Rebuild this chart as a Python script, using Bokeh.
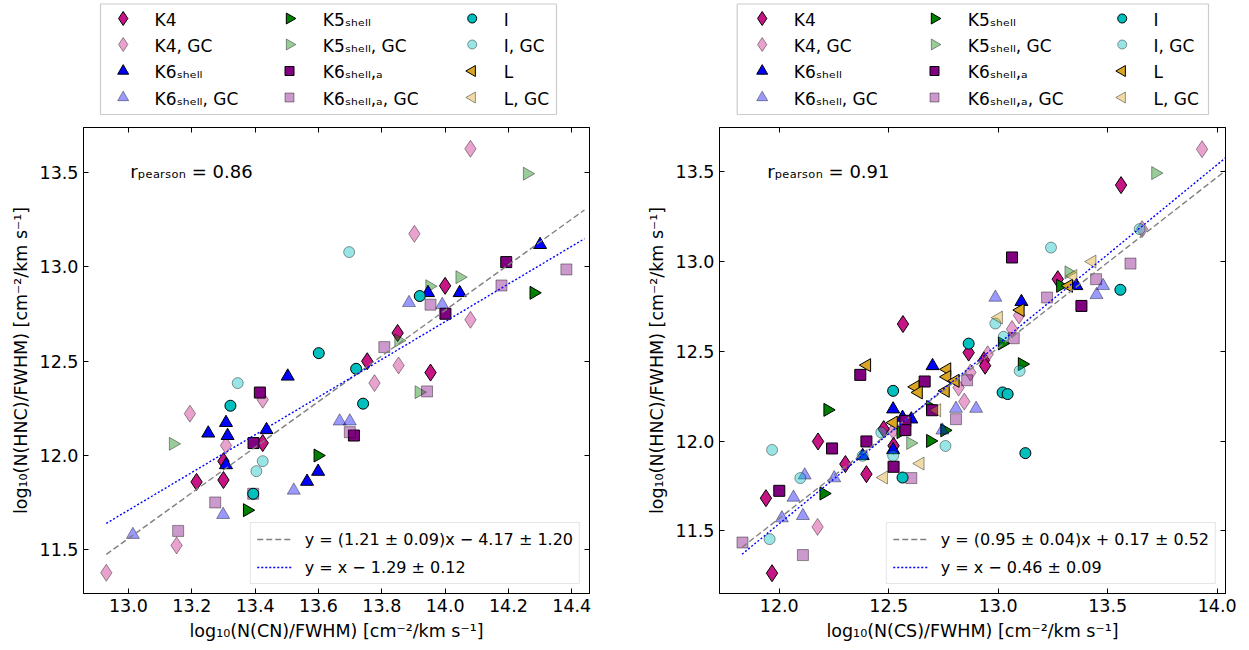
import numpy as np
from bokeh.plotting import figure
from bokeh.models import (Legend, LegendItem, LinearAxis, Label, FixedTicker,
                          Range1d, ColumnDataSource, CustomLabelingPolicy,
                          PrintfTickFormatter)
from bokeh.core.properties import value
from bokeh.layouts import row, column
from bokeh.embed import file_html
from bokeh.resources import INLINE

# ---------------- data: left panel, CN ----------------
K4_cn_x = [13.215, 13.30, 13.30, 13.424, 13.754, 13.85, 13.954, 14.00]
K4_cn_y = [11.86, 11.97, 11.87, 12.066, 12.50, 12.65, 12.44, 12.90]
K4GC_cn_x = [12.93, 13.152, 13.194, 13.308, 13.424, 13.777, 13.853, 13.903, 14.08, 14.08]
K4GC_cn_y = [11.378, 11.523, 12.222, 12.053, 12.296, 12.384, 12.478, 13.176, 13.627, 12.72]
K5_cn_x = [13.375, 13.598, 14.28]
K5_cn_y = [11.71, 12.0, 12.863]
K5GC_cn_x = [13.141, 13.853, 13.917, 13.951, 14.046, 14.259]
K5GC_cn_y = [12.062, 12.61, 12.336, 12.898, 12.946, 13.495]
K6_cn_x = [13.252, 13.308, 13.313, 13.308, 13.436, 13.503, 13.564, 13.599, 13.946, 14.046, 14.30]
K6_cn_y = [12.118, 12.174, 12.105, 11.95, 12.136, 12.42, 11.862, 11.915, 12.863, 12.863, 13.118]
K6GC_cn_x = [13.014, 13.299, 13.522, 13.667, 13.699, 13.886, 13.991]
K6GC_cn_y = [11.58, 11.686, 11.815, 12.182, 12.182, 12.81, 12.80]
K6a_cn_x = [13.395, 13.415, 13.712, 14.001, 14.193]
K6a_cn_y = [12.066, 12.334, 12.106, 12.752, 13.026]
K6aGC_cn_x = [13.157, 13.274, 13.394, 13.699, 13.808, 13.943, 13.954, 14.178, 14.383]
K6aGC_cn_y = [11.60, 11.751, 11.797, 12.124, 12.575, 12.34, 12.80, 12.902, 12.987]
I_cn_x = [13.322, 13.394, 13.601, 13.719, 13.741, 13.92]
I_cn_y = [12.264, 11.797, 12.543, 12.46, 12.275, 12.846]
IGC_cn_x = [13.345, 13.404, 13.424, 13.697]
IGC_cn_y = [12.384, 11.917, 11.97, 13.079]
L_cn_x, L_cn_y = [], []
LGC_cn_x, LGC_cn_y = [], []

# ---------------- data: right panel, CS ----------------
K4_cs_x = [11.939, 11.967, 12.177, 12.302, 12.398, 12.477, 12.522, 12.565, 12.865, 12.935, 12.94, 13.272, 13.561]
K4_cs_y = [11.682, 11.264, 11.998, 11.872, 11.816, 12.067, 11.974, 12.652, 12.493, 12.45, 12.42, 12.902, 13.426]
K4GC_cs_x = [12.175, 12.52, 12.819, 12.845, 12.873, 12.952, 13.063, 13.095, 13.657, 13.931]
K4GC_cs_y = [11.522, 12.057, 12.298, 12.22, 12.382, 12.484, 12.624, 12.70, 13.181, 13.626]
K5_cs_x = [12.203, 12.221, 12.555, 12.69, 12.69, 12.755, 13.018, 13.109, 13.284]
K5_cs_y = [11.708, 12.174, 12.05, 12.001, 12.19, 12.06, 12.544, 12.429, 12.865]
K5GC_cs_x = [12.599, 13.322, 13.718]
K5GC_cs_y = [11.989, 12.94, 13.493]
K6_cs_x = [12.381, 12.52, 12.52, 12.563, 12.603, 12.70, 13.106, 13.357]
K6_cs_y = [11.918, 11.951, 12.178, 12.131, 12.122, 12.419, 12.776, 12.865]
K6GC_cs_x = [12.012, 12.065, 12.108, 12.116, 12.251, 12.745, 12.807, 12.899, 12.987, 13.449, 13.479]
K6GC_cs_y = [11.571, 11.686, 11.584, 11.81, 11.794, 12.06, 12.181, 12.181, 12.80, 12.815, 12.865]
K6a_cs_x = [12.0, 12.241, 12.37, 12.398, 12.522, 12.576, 12.576, 12.664, 12.698, 13.063, 13.38]
K6a_cs_y = [11.723, 11.959, 12.369, 11.998, 11.857, 12.113, 12.061, 12.332, 12.172, 13.023, 12.753]
K6aGC_cs_x = [11.832, 12.108, 12.603, 12.807, 12.858, 13.071, 13.223, 13.447, 13.604]
K6aGC_cs_y = [11.435, 11.365, 11.794, 12.122, 12.339, 12.573, 12.80, 12.902, 12.989]
I_cs_x = [12.52, 12.563, 12.865, 13.02, 13.043, 13.124, 13.558]
I_cs_y = [12.28, 11.797, 12.543, 12.271, 12.262, 11.933, 12.843]
IGC_cs_x = [11.956, 11.967, 12.096, 12.381, 12.466, 12.52, 12.759, 12.987, 13.025, 13.098, 13.241, 13.646]
IGC_cs_y = [11.454, 11.951, 11.794, 11.918, 12.048, 11.918, 11.973, 12.655, 12.581, 12.391, 13.078, 13.181]
L_cs_x = [12.40, 12.522, 12.621, 12.636, 12.759, 12.766, 12.766, 12.804, 13.101, 13.322]
L_cs_y = [12.423, 12.103, 12.302, 12.271, 12.28, 12.40, 12.358, 12.336, 12.73, 12.865]
LGC_cs_x = [12.477, 12.644, 12.72, 13.002, 13.342, 13.429]
LGC_cs_y = [11.797, 11.875, 12.172, 12.688, 12.92, 13.0]

# fits
fit_cn_slope, fit_cn_icpt = 1.21, -4.17
fix_cn_icpt = -1.29
fit_cn_xrange = [12.93, 14.44]
fit_cs_slope, fit_cs_icpt = 0.95, 0.17
fix_cs_icpt = -0.46
fit_cs_xrange = [11.83, 14.04]

r_cn, r_cs = "0.86", "0.91"
fit_cn_labels = ["y = (1.21 ± 0.09)x − 4.17 ± 1.20", "y = x − 1.29 ± 0.12"]
fit_cs_labels = ["y = (0.95 ± 0.04)x + 0.17 ± 0.52", "y = x − 0.46 ± 0.09"]

xticks_cn = [13.0, 13.2, 13.4, 13.6, 13.8, 14.0, 14.2, 14.4]
xticks_cs = [12.0, 12.5, 13.0, 13.5, 14.0]
yticks = [11.5, 12.0, 12.5, 13.0, 13.5]

# legend order (column-major, 4 rows x 3 columns)
series_names = ["K4", "K4, GC", "K6ₛₕₑₗₗ", "K6ₛₕₑₗₗ, GC",
                "K5ₛₕₑₗₗ", "K5ₛₕₑₗₗ, GC", "K6ₛₕₑₗₗ,ₐ", "K6ₛₕₑₗₗ,ₐ, GC",
                "I", "I, GC", "L", "L, GC"]

FONT = "DejaVu Sans"
FS = "17.5px"
LFS = "17px"

# style per series: (marker, size, legend size, angle, color, alpha)
RIGHT = -np.pi / 2
LEFT = np.pi / 2
styles = {
    "K4": ("diamond", 17, 14, 0, "#c71585", 1.0),
    "K4, GC": ("diamond", 17, 14, 0, "#c71585", 0.4),
    "K6ₛₕₑₗₗ": ("triangle", 13, 11, 0, "#0000ff", 1.0),
    "K6ₛₕₑₗₗ, GC": ("triangle", 13, 11, 0, "#0000ff", 0.4),
    "K5ₛₕₑₗₗ": ("triangle", 13, 11, RIGHT, "#008000", 1.0),
    "K5ₛₕₑₗₗ, GC": ("triangle", 13, 11, RIGHT, "#008000", 0.4),
    "K6ₛₕₑₗₗ,ₐ": ("square", 11, 9, 0, "#800080", 1.0),
    "K6ₛₕₑₗₗ,ₐ, GC": ("square", 11, 9, 0, "#800080", 0.4),
    "I": ("circle", 11, 9, 0, "#00bfbf", 1.0),
    "I, GC": ("circle", 11, 9, 0, "#00bfbf", 0.4),
    "L": ("triangle", 13, 11, LEFT, "#daa520", 1.0),
    "L, GC": ("triangle", 13, 11, LEFT, "#daa520", 0.4),
}
plot_order = ["K4", "K4, GC", "K5ₛₕₑₗₗ", "K5ₛₕₑₗₗ, GC", "K6ₛₕₑₗₗ", "K6ₛₕₑₗₗ, GC",
              "K6ₛₕₑₗₗ,ₐ", "K6ₛₕₑₗₗ,ₐ, GC", "I", "I, GC", "L", "L, GC"]

cn_data = {
    "K4": (K4_cn_x, K4_cn_y), "K4, GC": (K4GC_cn_x, K4GC_cn_y),
    "K5ₛₕₑₗₗ": (K5_cn_x, K5_cn_y), "K5ₛₕₑₗₗ, GC": (K5GC_cn_x, K5GC_cn_y),
    "K6ₛₕₑₗₗ": (K6_cn_x, K6_cn_y), "K6ₛₕₑₗₗ, GC": (K6GC_cn_x, K6GC_cn_y),
    "K6ₛₕₑₗₗ,ₐ": (K6a_cn_x, K6a_cn_y), "K6ₛₕₑₗₗ,ₐ, GC": (K6aGC_cn_x, K6aGC_cn_y),
    "I": (I_cn_x, I_cn_y), "I, GC": (IGC_cn_x, IGC_cn_y),
    "L": (L_cn_x, L_cn_y), "L, GC": (LGC_cn_x, LGC_cn_y),
}
cs_data = {
    "K4": (K4_cs_x, K4_cs_y), "K4, GC": (K4GC_cs_x, K4GC_cs_y),
    "K5ₛₕₑₗₗ": (K5_cs_x, K5_cs_y), "K5ₛₕₑₗₗ, GC": (K5GC_cs_x, K5GC_cs_y),
    "K6ₛₕₑₗₗ": (K6_cs_x, K6_cs_y), "K6ₛₕₑₗₗ, GC": (K6GC_cs_x, K6GC_cs_y),
    "K6ₛₕₑₗₗ,ₐ": (K6a_cs_x, K6a_cs_y), "K6ₛₕₑₗₗ,ₐ, GC": (K6aGC_cs_x, K6aGC_cs_y),
    "I": (I_cs_x, I_cs_y), "I, GC": (IGC_cs_x, IGC_cs_y),
    "L": (L_cs_x, L_cs_y), "L, GC": (LGC_cs_x, LGC_cs_y),
}

NO_LABELS = CustomLabelingPolicy(code="""
for (const i of indices) { indices.unset(i) }
return indices
""")


def style_axis(ax, ticks, labels=True):
    ax.ticker = FixedTicker(ticks=ticks)
    ax.formatter = PrintfTickFormatter(format="%.1f")
    ax.major_tick_in = 5
    ax.major_tick_out = 0
    ax.minor_tick_in = 0
    ax.minor_tick_out = 0
    ax.axis_line_color = "black"
    ax.major_tick_line_color = "black"
    ax.axis_line_width = 1
    ax.major_label_text_font = FONT
    ax.major_label_text_color = "black"
    if labels:
        ax.major_label_text_font_size = FS
        ax.major_label_standoff = 5
        ax.axis_label_text_font = FONT
        ax.axis_label_text_font_size = FS
        ax.axis_label_text_font_style = "normal"
        ax.axis_label_text_color = "black"
        ax.axis_label_standoff = 6
    else:
        ax.major_label_text_font_size = "1px"
        ax.major_label_policy = NO_LABELS
        ax.major_label_standoff = 0


LEG_H = 118
PANEL_H = 528


def make_legend(width, mb_left, mb_right, box_x, mk_x, tx_x):
    # legend canvas: x in local pixels of the figure, y in pixels from top
    f = figure(width=width, height=LEG_H, x_range=Range1d(mb_left, width - mb_right),
               y_range=Range1d(LEG_H, 0), x_axis_type=None, y_axis_type=None,
               toolbar_location=None, output_backend="svg",
               min_border_left=mb_left, min_border_right=mb_right,
               min_border_top=0, min_border_bottom=0)
    f.grid.visible = False
    f.outline_line_color = None
    f.background_fill_color = "white"
    f.border_fill_color = "white"
    f.quad(left=box_x[0], right=box_x[1], top=3.5, bottom=114,
           fill_color="white", line_color="#cccccc", line_width=1.2)
    row_y = [18, 44, 70.5, 97]
    for i, name in enumerate(series_names):
        c, r = i // 4, i % 4
        mk, sz, lsz, ang, col, al = styles[name]
        f.scatter([mk_x[c]], [row_y[r]], marker=mk, size=lsz, angle=ang,
                  fill_color=col, fill_alpha=al, line_color="black", line_alpha=al)
        f.text([tx_x[c]], [row_y[r] + 1], text=[name], text_font=value(FONT),
               text_font_size=value(LFS), text_baseline="middle",
               text_align="left", text_color="black")
    return f


def make_panel(data, xr, yr, xticks, width, mb_left, mb_right, xlabel, ylabel,
               rtxt, rpos, fit, fix_icpt, fit_xr, fit_labels):
    p = figure(width=width, height=PANEL_H, x_range=Range1d(*xr), y_range=Range1d(*yr),
               output_backend="svg", toolbar_location=None,
               min_border_left=mb_left, min_border_right=mb_right,
               min_border_top=9, min_border_bottom=53)
    p.grid.visible = False
    p.outline_line_color = "black"
    p.outline_line_alpha = 1
    p.outline_line_width = 1
    p.background_fill_color = "white"
    p.border_fill_color = "white"
    style_axis(p.xaxis[0], xticks)
    style_axis(p.yaxis[0], yticks)
    p.xaxis[0].axis_label = xlabel
    p.yaxis[0].axis_label = ylabel

    top = LinearAxis()
    style_axis(top, xticks, labels=False)
    p.add_layout(top, "above")
    right = LinearAxis()
    style_axis(right, yticks, labels=False)
    p.add_layout(right, "right")

    for name in plot_order:
        mk, sz, lsz, ang, col, al = styles[name]
        xs, ys = data[name]
        if len(xs) == 0:
            continue
        src = ColumnDataSource(dict(x=list(xs), y=list(ys)))
        p.scatter("x", "y", source=src, marker=mk, size=sz, angle=ang,
                  fill_color=col, fill_alpha=al, line_color="black",
                  line_alpha=al, line_width=1)

    lx = np.array(fit_xr)
    r1 = p.line(lx, fit[0] * lx + fit[1], line_color="gray", line_width=1.4,
                line_dash="6 3")
    r2 = p.line(lx, lx + fix_icpt, line_color="blue", line_width=1.4,
                line_dash="2 2")

    leg_in = Legend(items=[LegendItem(label=fit_labels[0], renderers=[r1]),
                           LegendItem(label=fit_labels[1], renderers=[r2])],
                    location="bottom_right", label_text_font=FONT,
                    label_text_font_size="16px", label_text_color="black",
                    glyph_width=36, glyph_height=20,
                    label_height=20, spacing=8, padding=6, margin=9,
                    label_standoff=12, border_line_color="#cccccc",
                    border_line_width=1, background_fill_alpha=0.8)
    p.add_layout(leg_in)

    lab = Label(x=rpos[0], y=rpos[1], text="rₚₑₐᵣₛₒₙ = " + rtxt,
                text_font=FONT, text_font_size="18px", text_color="black",
                text_baseline="alphabetic")
    p.add_layout(lab)
    return p


W1, ML1, MR1 = 630, 83, 41
W2, ML2, MR2 = 615, 89, 20

leg1 = make_legend(W1, ML1, MR1, (100, 556), (122.7, 289, 471.7), (154, 322.3, 503.3))
leg2 = make_legend(W2, ML2, MR2, (106.7, 578), (131.7, 304, 491.7), (163.3, 337.3, 523))

p1 = make_panel(cn_data, (12.858, 14.456), (11.268, 13.74), xticks_cn, W1, ML1, MR1,
                "log₁₀(N(CN)/FWHM) [cm⁻²/km s⁻¹]",
                "log₁₀(N(HNC)/FWHM) [cm⁻²/km s⁻¹]",
                r_cn, (13.006, 13.505), (fit_cn_slope, fit_cn_icpt), fix_cn_icpt,
                fit_cn_xrange, fit_cn_labels)
p2 = make_panel(cs_data, (11.727, 14.038), (11.151, 13.747), xticks_cs, W2, ML2, MR2,
                "log₁₀(N(CS)/FWHM) [cm⁻²/km s⁻¹]",
                "log₁₀(N(HNC)/FWHM) [cm⁻²/km s⁻¹]",
                r_cs, (11.945, 13.5), (fit_cs_slope, fit_cs_icpt), fix_cs_icpt,
                fit_cs_xrange, fit_cs_labels)

layout = row(column(leg1, p1), column(leg2, p2))
open("out.html", "w").write(file_html(layout, INLINE))
